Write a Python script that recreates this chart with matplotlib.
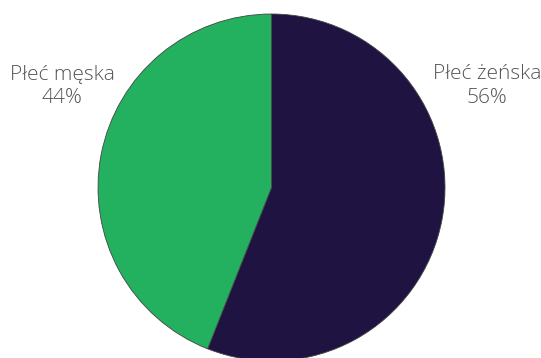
import matplotlib
matplotlib.use("Agg")
import matplotlib.pyplot as plt

labels = ["Płeć żeńska", "Płeć męska"]
values = [56, 44]
colors = ["#1e1341", "#23b160"]

W, H = 541, 358
fig = plt.figure(figsize=(W/100, H/100), dpi=100)
cx, cy, r = 271.5, 187.5, 173.5
ax = fig.add_axes([(cx - r)/W, (H - cy - r)/H, 2*r/W, 2*r/H])
ax.pie(values, colors=colors, startangle=90, counterclock=False, radius=1,
       wedgeprops=dict(edgecolor="#444444", linewidth=0.6))
ax.set_xlim(-1, 1)
ax.set_ylim(-1, 1)
ax.set_aspect("equal")
ax.axis("off")

pcts = [f"{v}%" for v in values]
pos = [(487, 86), (62, 86)]
for (x, y), lab, p in zip(pos, labels, pcts):
    fig.text(x/W, 1 - y/H, f"{lab}\n{p}", ha="center", va="center",
             fontsize=15, color="#555555", family="Open Sans",
             fontweight="light", linespacing=1.25)

fig.savefig("out.png", dpi=100)
